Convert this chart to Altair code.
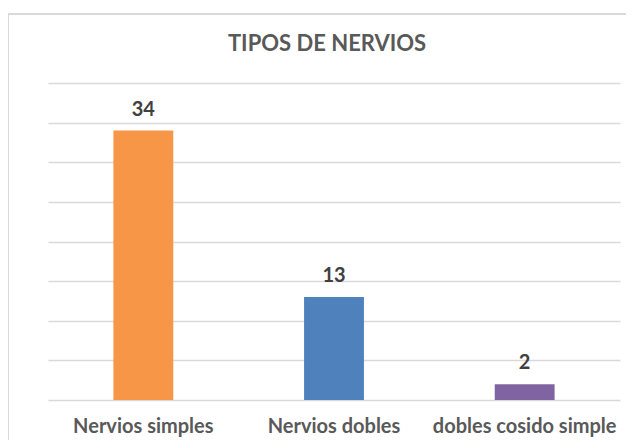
import altair as alt
import pandas as pd

categories = ["Nervios simples", "Nervios dobles", "dobles cosido simple"]
values = [34, 13, 2]
colors = ["#F79646", "#4F81BD", "#8064A2"]
y_ticks = [0, 5, 10, 15, 20, 25, 30, 35, 40]

df = pd.DataFrame({"tipo": categories, "n": values, "color": colors})

FONT = "Lato"

x_enc = alt.X(
    "tipo:N",
    sort=categories,
    scale=alt.Scale(paddingInner=0.686, paddingOuter=0.343),
    axis=alt.Axis(
        title=None, labelAngle=0, domain=False, ticks=False,
        labelFont=FONT, labelFontSize=20, labelFontWeight="bold",
        labelColor="#595959", labelPadding=16, labelLimit=400,
    ),
)
y_enc = alt.Y(
    "n:Q",
    scale=alt.Scale(domain=[0, 40], nice=False),
    axis=alt.Axis(
        title=None, labels=False, ticks=False, domain=False,
        values=y_ticks, gridColor="#d9d9d9", gridWidth=1.3,
    ),
)

bars = alt.Chart(df).mark_bar().encode(
    x=x_enc, y=y_enc, color=alt.Color("color:N", scale=None)
)

text = alt.Chart(df).mark_text(
    font=FONT, fontSize=20, fontWeight="bold", color="#404040",
    baseline="alphabetic", dy=-15,
).encode(x=x_enc, y=y_enc, text="n:Q")

frame = alt.Chart(df).mark_rect(
    fill=None, stroke="#d9d9d9", strokeWidth=2
).encode(
    x=alt.value(-40), x2=alt.value(700), y=alt.value(-69), y2=alt.value(500)
)

chart = alt.layer(frame, bars, text).properties(
    width=572,
    height=317,
    autosize=alt.AutoSizeParams(type="none"),
    padding={"left": 40, "top": 75, "right": 6, "bottom": 40},
    title=alt.TitleParams(
        "TIPOS DE NERVIOS", font=FONT, fontSize=22, fontWeight="bold",
        color="#595959", anchor="middle", offset=0, dx=-7, dy=43,
    ),
).configure_view(stroke=None)

chart.save("out.html", embed_options={"renderer": "svg", "actions": False})
